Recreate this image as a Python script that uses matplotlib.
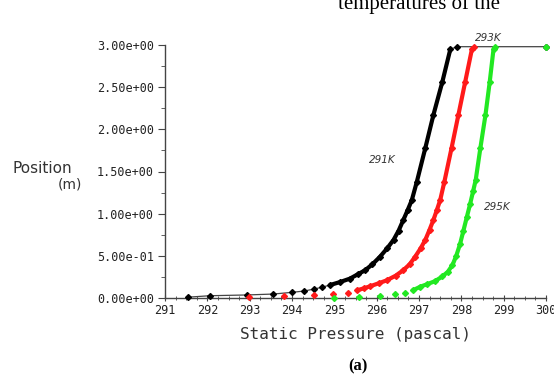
import numpy as np
import matplotlib
matplotlib.use("Agg")
import matplotlib.pyplot as plt
from matplotlib.ticker import MultipleLocator, FormatStrFormatter

# Static pressure (pascal) vs position (m) for three temperatures
p_291 = [291.55, 292.06, 292.93, 293.56, 294.00, 294.29, 294.53, 294.70, 294.90, 295.14,
         295.37, 295.55, 295.73, 295.90, 296.08, 296.25, 296.40, 296.52, 296.63, 296.73,
         296.83, 296.95, 297.15, 297.34, 297.55, 297.74, 297.90, 300.00]
y_291 = [0.010, 0.027, 0.036, 0.047, 0.067, 0.083, 0.107, 0.127, 0.154, 0.190,
         0.230, 0.280, 0.330, 0.400, 0.490, 0.590, 0.690, 0.800, 0.925, 1.040,
         1.160, 1.380, 1.780, 2.170, 2.560, 2.950, 2.980, 2.980]

p_293 = [292.99, 293.81, 294.51, 294.98, 295.33, 295.53, 295.70, 295.85, 296.05, 296.24,
         296.45, 296.63, 296.78, 296.91, 297.04, 297.15, 297.25, 297.34, 297.42, 297.50,
         297.60, 297.77, 297.93, 298.09, 298.25, 298.30]
y_293 = [0.008, 0.024, 0.032, 0.047, 0.063, 0.090, 0.115, 0.140, 0.175, 0.210,
         0.265, 0.330, 0.400, 0.490, 0.590, 0.690, 0.810, 0.925, 1.040, 1.160,
         1.380, 1.780, 2.170, 2.560, 2.950, 2.980]

p_295 = [295.00, 295.59, 296.07, 296.44, 296.67, 296.85, 297.03, 297.20, 297.38, 297.55,
         297.68, 297.79, 297.88, 297.97, 298.05, 298.13, 298.21, 298.28, 298.34, 298.45,
         298.57, 298.67, 298.76, 298.80, 300.00]
y_295 = [0.000, 0.010, 0.024, 0.047, 0.063, 0.090, 0.134, 0.165, 0.200, 0.255,
         0.310, 0.390, 0.500, 0.640, 0.800, 0.960, 1.120, 1.270, 1.400, 1.780,
         2.170, 2.560, 2.950, 2.980, 2.980]

series = [(p_291, y_291, "black", 0.14),
          (p_293, y_293, "#ff1a1a", 0.08),
          (p_295, y_295, "#22e822", 0.08)]

labels = ["291K", "293K", "295K"]
label_pos = [(296.13, 1.64), (298.64, 3.08), (298.85, 1.08)]

fig = plt.figure(figsize=(5.54, 3.79), dpi=100)
ax = fig.add_axes([165 / 554, 81 / 379, 381 / 554, 253 / 379])

for i, (px, py, col, thr) in enumerate(series):
    px = np.array(px)
    py = np.array(py)
    if i == 0:
        # thin connecting line (visible at bottom and along the top)
        ax.plot(px, py, color="#444444", lw=0.9, zorder=2, clip_on=False)
    dense = (py >= thr) & (py < 2.97)
    ax.plot(px[dense], py[dense], color=col, lw=3.0, zorder=3,
            solid_joinstyle="round", solid_capstyle="round")
    ax.plot(px, py, ls="none", marker="D", ms=3.0, color=col, zorder=4, clip_on=False)

for txt, (lx, ly) in zip(labels, label_pos):
    ax.text(lx, ly, txt, fontsize=7.5, style="italic", color="#333333",
            ha="center", va="center", clip_on=False, family="DejaVu Sans")

ax.set_xlim(291, 300)
ax.set_ylim(0, 3)
ax.xaxis.set_major_locator(MultipleLocator(1))
ax.xaxis.set_minor_locator(MultipleLocator(0.25))
ax.yaxis.set_major_locator(MultipleLocator(0.5))
ax.yaxis.set_minor_locator(MultipleLocator(0.25))
ax.yaxis.set_major_formatter(FormatStrFormatter("%.2e"))
ax.xaxis.set_major_formatter(FormatStrFormatter("%d"))

for s in ["top", "right"]:
    ax.spines[s].set_visible(False)
for s in ["left", "bottom"]:
    ax.spines[s].set_color("#444444")
    ax.spines[s].set_linewidth(1.0)

ax.tick_params(axis="y", which="major", length=5, direction="out", color="#444444",
               labelsize=8.5, labelcolor="#222222", pad=3)
ax.tick_params(axis="y", which="minor", length=3, direction="out", color="#444444")
ax.tick_params(axis="x", which="major", length=5, direction="inout", color="#444444",
               labelsize=8.5, labelcolor="#222222", pad=2)
ax.tick_params(axis="x", which="minor", length=3, direction="inout", color="#444444")
for lab in ax.get_xticklabels() + ax.get_yticklabels():
    lab.set_family("DejaVu Sans Mono")

fig.text(12 / 554, 1 - 169 / 379, "Position", fontsize=11, color="#333333",
         ha="left", va="center", family="DejaVu Sans")
fig.text(70 / 554, 1 - 185 / 379, "(m)", fontsize=10, color="#333333",
         ha="center", va="center", family="DejaVu Sans")
fig.text(356 / 554, 1 - 335 / 379, "Static Pressure (pascal)", fontsize=11.5,
         color="#333333", ha="center", va="center", family="DejaVu Sans Mono")
fig.text(358 / 554, 1 - 366 / 379, "(a)", fontsize=12, fontweight="bold",
         ha="center", va="center", family="Liberation Serif")
fig.text(338 / 554, 1 - 9 / 379, "temperatures of the", fontsize=15,
         ha="left", va="baseline", family="Liberation Serif")

fig.savefig("out.png", dpi=100)
